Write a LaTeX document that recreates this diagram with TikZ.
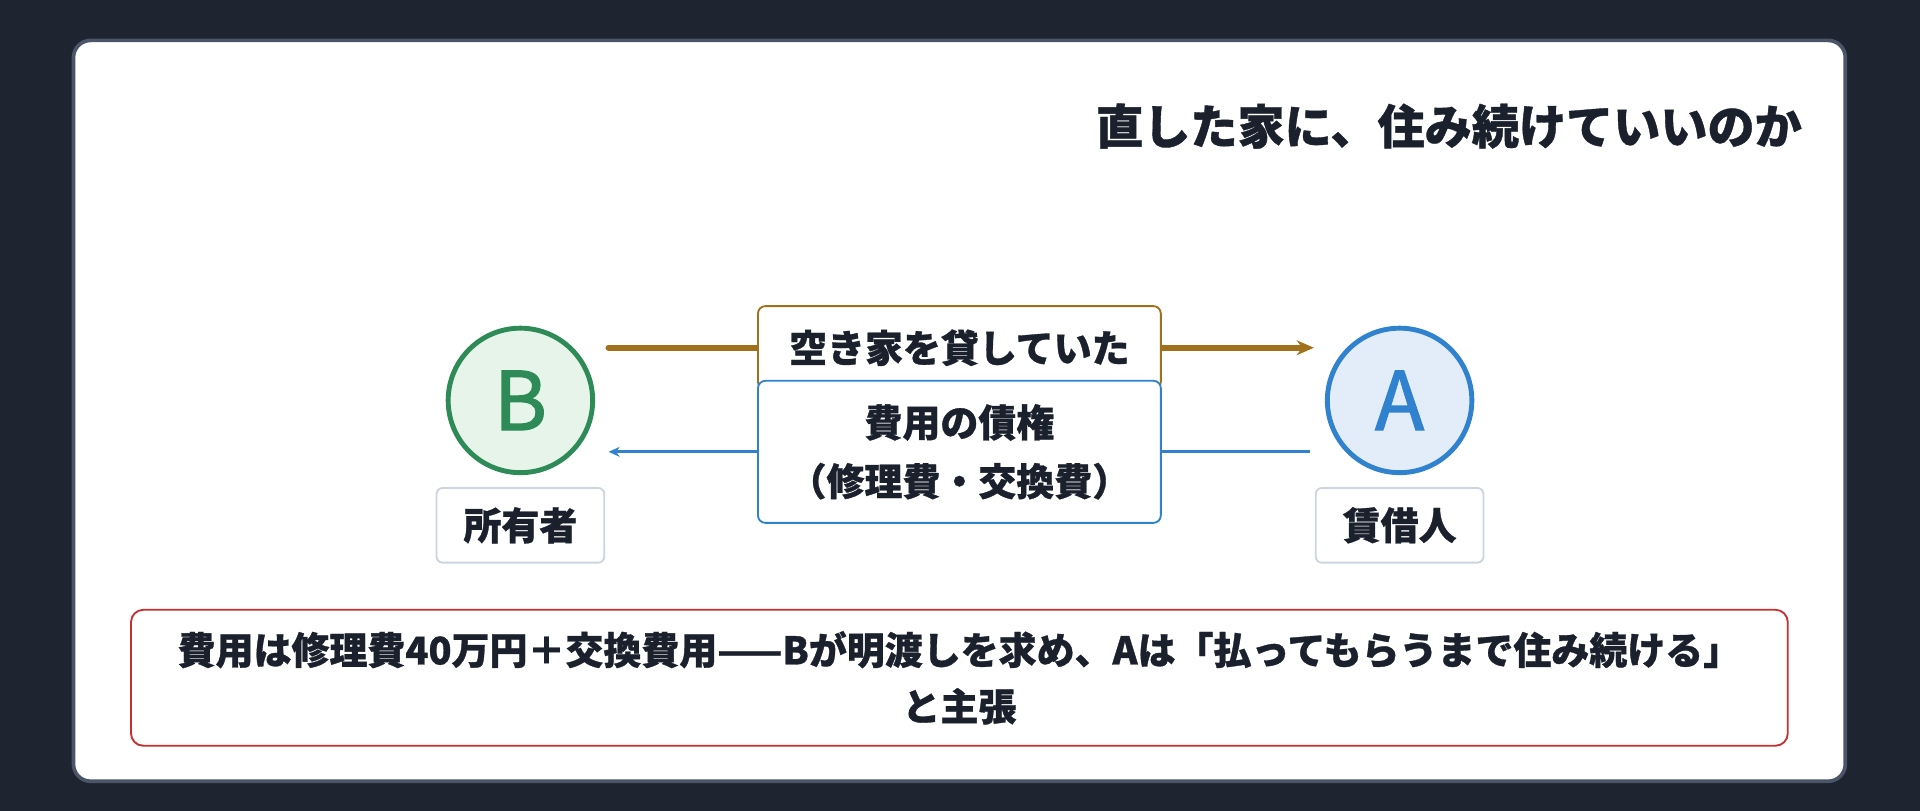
\documentclass[tikz,border=0pt]{standalone}
\usepackage{fontspec}
\setmainfont{Noto Sans CJK JP}[FakeBold=0.8]
\newfontfamily\boldf{Noto Sans CJK JP}[FakeBold=1.6]
\usetikzlibrary{arrows.meta}
\definecolor{bgd}{HTML}{1E2530}
\definecolor{cardb}{HTML}{4A5568}
\definecolor{ink}{HTML}{1A202C}
\definecolor{gB}{HTML}{2E8B57}
\definecolor{gBf}{HTML}{E6F4EA}
\definecolor{bA}{HTML}{3182CE}
\definecolor{bAf}{HTML}{E3EDF9}
\definecolor{gold}{HTML}{A0701A}
\definecolor{redb}{HTML}{C53030}
\definecolor{lbl}{HTML}{CBD5E0}
\begin{document}
\begin{tikzpicture}[x=1pt,y=-1pt,
  txt/.style={font=\fontsize{31}{40}\selectfont\bfseries,text=ink},
  lab/.style={txt,draw=lbl,line width=1.5pt,fill=white,rounded corners=5pt,minimum width=137pt,minimum height=61pt},
  circ/.style={circle,line width=4pt,minimum size=118pt,inner sep=0pt,font=\fontsize{66}{66}\selectfont\boldf},
  bx/.style={txt,fill=white,rounded corners=6pt,line width=1.5pt,align=center}]
\useasboundingbox (0,0) rectangle (1568,662);
\fill[bgd] (0,0) rectangle (1568,662);
\draw[cardb,line width=3pt,fill=white,rounded corners=14pt] (60,33) rectangle (1507,638);
\node[txt,anchor=east,font=\fontsize{38.5}{44}\selectfont\bfseries] (title) at (1475,103) {直した家に、住み続けていいのか};
\node[circ,draw=gB,fill=gBf,text=gB] (B) at (425,327) {B};
\node[circ,draw=bA,fill=bAf,text=bA] (A) at (1143,327) {A};
\node[lab] (lB) at (425,429) {所有者};
\node[lab] (lA) at (1143,429) {賃借人};
\coordinate (g1) at (497,284); \coordinate (g2) at (1073,284);
\coordinate (b1) at (1070,369); \coordinate (b2) at (497,369);
\draw[gold,line width=5pt,line cap=round,-{Stealth[length=14pt,width=12pt]}] (g1) -- (g2);
\draw[bA,line width=2.5pt,-{Stealth[length=9pt,width=8pt]}] (b1) -- (b2);
\node[bx,draw=gold,minimum width=329pt,minimum height=68pt] (lend) at (783.5,284) {空き家を貸していた};
\node[bx,draw=bA,minimum width=329pt,minimum height=116pt,font=\fontsize{31}{48}\selectfont\bfseries] (claim) at (783.5,369) {費用の債権\\（修理費・交換費）};
\node[bx,draw=redb,minimum width=1353pt,minimum height=111pt,rounded corners=10pt,font=\fontsize{31}{46}\selectfont\bfseries] (note) at (783.5,553.5) {費用は修理費40万円＋交換費用——Bが明渡しを求め、Aは「払ってもらうまで住み続ける」\\と主張};
\end{tikzpicture}
\end{document}
